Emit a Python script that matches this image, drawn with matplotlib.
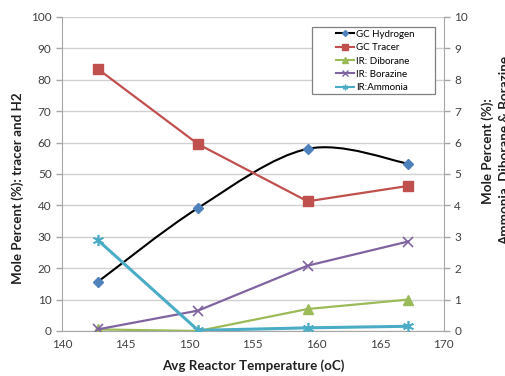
import matplotlib.pyplot as plt
from matplotlib.path import Path
from matplotlib.patches import PathPatch, Rectangle
from matplotlib.lines import Line2D

plt.rcParams['font.family'] = ['Lato', 'DejaVu Sans']

# Dane
temperatura = [142.8, 150.7, 159.3, 167.2]
gc_wodor = [15.6, 39.2, 58.0, 53.3]
gc_znacznik = [83.5, 59.5, 41.3, 46.2]
ir_diboran = [0.05, 0.0, 0.7, 1.0]
ir_borazyna = [0.05, 0.65, 2.08, 2.85]
ir_amoniak = [2.9, 0.02, 0.1, 0.15]

c_blue = '#4F81BD'
c_red = '#C0504D'
c_green = '#9BBB59'
c_purple = '#8064A2'
c_teal = '#4BACC6'
c_axis = '#A6A6A6'

fig = plt.figure(figsize=(5.06, 3.76), dpi=100)
ax = fig.add_axes([0.1225, 0.1197, 0.7545, 0.8351])
ax2 = ax.twinx()

ax.set_xlim(140, 170)
ax.set_ylim(0, 100)
ax2.set_ylim(0, 10)
ax.set_xticks(range(140, 171, 5))
ax.set_yticks(range(0, 101, 10))
ax2.set_yticks(range(0, 11, 1))

for a in (ax, ax2):
    for s in a.spines.values():
        s.set_visible(False)
    a.tick_params(colors=c_axis, labelcolor='#404040', labelsize=8.5, length=4, width=1)
ax.spines['left'].set_visible(True)
ax.spines['left'].set_color(c_axis)
ax.spines['bottom'].set_visible(True)
ax.spines['bottom'].set_color(c_axis)
ax2.spines['right'].set_visible(True)
ax2.spines['right'].set_color(c_axis)
ax.tick_params(axis='x', length=0, pad=6)
ax.yaxis.grid(True, color='#D0D0D0', linewidth=1)
ax.set_axisbelow(True)

# Wygładzona linia wodoru (krzywe Beziera jak w Excelu)
pts = list(zip(temperatura, gc_wodor))
verts = [pts[0]]
codes = [Path.MOVETO]
for i in range(len(pts) - 1):
    p0 = pts[i - 1] if i > 0 else pts[i]
    p1 = pts[i]
    p2 = pts[i + 1]
    p3 = pts[i + 2] if i + 2 < len(pts) else pts[i + 1]
    c1 = (p1[0] + (p2[0] - p0[0]) / 6, p1[1] + (p2[1] - p0[1]) / 6)
    c2 = (p2[0] - (p3[0] - p1[0]) / 6, p2[1] - (p3[1] - p1[1]) / 6)
    verts += [c1, c2, p2]
    codes += [Path.CURVE4] * 3
ax.add_patch(PathPatch(Path(verts, codes), fill=False, edgecolor='black', linewidth=1.5, zorder=3))
ax.plot(temperatura, gc_wodor, linestyle='none', marker='D', markersize=5.5,
        color=c_blue, zorder=4)

ax.plot(temperatura, gc_znacznik, color=c_red, linewidth=1.6, marker='s',
        markersize=7, zorder=4)

ax2.plot(temperatura, ir_diboran, color=c_green, linewidth=1.6, marker='^',
         markersize=7.5, zorder=4)
ax2.plot(temperatura, ir_borazyna, color=c_purple, linewidth=1.6, marker='x',
         markersize=7, markeredgewidth=1.2, zorder=4)
ax2.plot(temperatura, ir_amoniak, color=c_teal, linewidth=2.2, marker=(6, 2, 0),
         markersize=8, markeredgewidth=1.2, zorder=5)

# Legenda z ramką rysowaną osobno
fig.patches.append(Rectangle((312 / 506, (376 - 94) / 376), 123 / 506, 67 / 376,
                             transform=fig.transFigure, facecolor='white',
                             edgecolor='#808080', linewidth=0.9, zorder=5))
handles = [
    Line2D([], [], color='black', marker='D', markerfacecolor=c_blue,
           markeredgecolor=c_blue, markersize=3),
    Line2D([], [], color=c_red, marker='s', markersize=4.5),
    Line2D([], [], color=c_green, marker='^', markersize=4),
    Line2D([], [], color=c_purple, marker='x', markersize=4),
    Line2D([], [], color=c_teal, marker=(6, 2, 0), markersize=4),
]
labels = ['GC Hydrogen', 'GC Tracer', 'IR: Diborane', 'IR: Borazine', 'IR:Ammonia']
leg = fig.legend(handles, labels, loc='upper left',
                 bbox_to_anchor=(328 / 506, (376 - 22) / 376),
                 fontsize=7, frameon=False, handlelength=1.9,
                 handletextpad=0.15, borderpad=0.3, labelspacing=0.45)
leg.set_zorder(6)

fig.text(18 / 506, (376 - 188) / 376, 'Mole Percent (%): tracer and H2', rotation=90,
         fontsize=9.6, fontweight='bold', color='#202020', ha='center', va='center')
fig.text(253 / 506, 10 / 376, 'Avg Reactor Temperature (oC)', fontsize=9.6,
         fontweight='bold', color='#202020', ha='center', va='center')
fig.text(496 / 506, (376 - 151) / 376, 'Mole Percent (%):\nAmmonia, Diborane & Borazine',
         rotation=90, fontsize=9.6, fontweight='bold', color='#202020',
         ha='center', va='center', multialignment='center', linespacing=1.45)

fig.savefig('out.png', dpi=100)
